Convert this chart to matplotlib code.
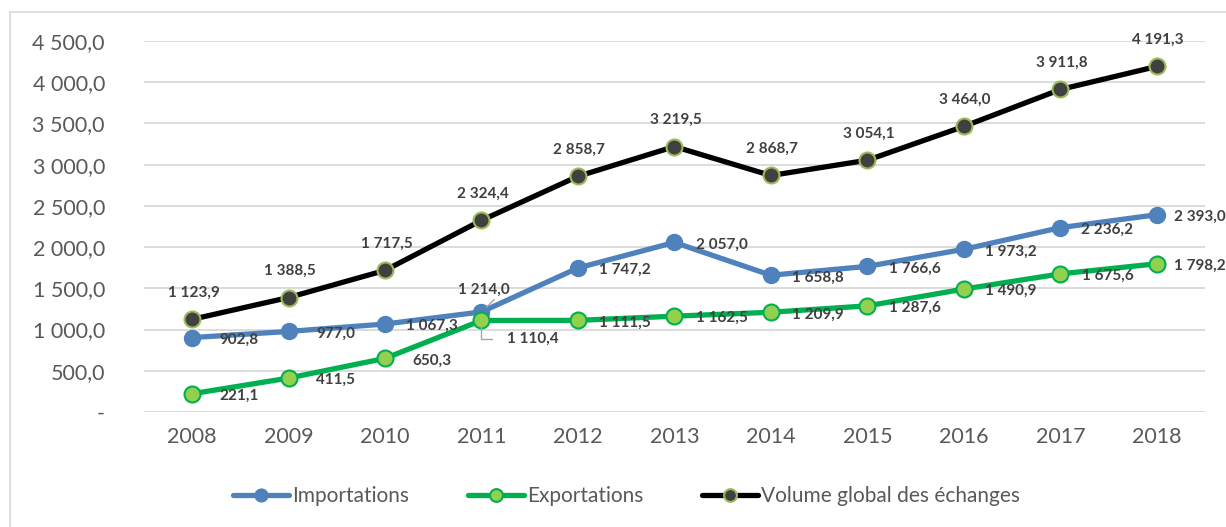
import matplotlib
matplotlib.use("Agg")
import matplotlib.pyplot as plt
from matplotlib.patches import Rectangle

plt.rcParams['font.family'] = ['Lato', 'DejaVu Sans']

years = [2008, 2009, 2010, 2011, 2012, 2013, 2014, 2015, 2016, 2017, 2018]
importations = [902.8, 977.0, 1067.3, 1214.0, 1747.2, 2057.0, 1658.8, 1766.6, 1973.2, 2236.2, 2393.0]
exportations = [221.1, 411.5, 650.3, 1110.4, 1111.5, 1162.5, 1209.9, 1287.6, 1490.9, 1675.6, 1798.2]
volume = [1123.9, 1388.5, 1717.5, 2324.4, 2858.7, 3219.5, 2868.7, 3054.1, 3464.0, 3911.8, 4191.3]
yticks = [0, 500, 1000, 1500, 2000, 2500, 3000, 3500, 4000, 4500]


def fr(v):
    return f"{v:,.1f}".replace(",", " ").replace(".", ",")


fig = plt.figure(figsize=(12.26, 5.27), dpi=100)
ax = fig.add_axes([0.1173, 0.2182, 0.8656, 0.704])

x = list(range(len(years)))

ax.plot(x, importations, color='#4F81BD', lw=3.8, marker='o', ms=11.5,
        mfc='#4F81BD', mec='#4F81BD', label='Importations', zorder=3, solid_capstyle='round')
ax.plot(x, exportations, color='#00B050', lw=3.8, marker='o', ms=11.5,
        mfc='#92D050', mec='#00B050', mew=1.5, label='Exportations', zorder=4, solid_capstyle='round')
ax.plot(x, volume, color='black', lw=3.8, marker='o', ms=11.5,
        mfc='#404040', mec='#9BBB59', mew=1.5, label='Volume global des échanges', zorder=5, solid_capstyle='round')

lab = dict(fontsize=11, fontweight='bold', color='#404040', ha='center', va='center',
           textcoords='offset points', zorder=6)

for i in x:
    ax.annotate(fr(volume[i]), (i, volume[i]), xytext=(1, 19), **lab)
    # last labels pulled in a bit so they stay inside the figure
    dx = 31 if i == len(x) - 1 else 34
    if years[i] == 2011:
        ax.annotate(fr(importations[i]), (i, importations[i]), xytext=(2, 16),
                    arrowprops=dict(arrowstyle='-', color='#A6A6A6', lw=1,
                                    relpos=(0.78, 0.1), shrinkA=0, shrinkB=5), **lab)
        ax.annotate(fr(exportations[i]), (i, exportations[i]), xytext=(37, -13),
                    arrowprops=dict(arrowstyle='-', color='#A6A6A6', lw=1,
                                    connectionstyle='angle,angleA=0,angleB=90,rad=0',
                                    relpos=(0, 0.5), shrinkA=9, shrinkB=5), **lab)
    else:
        ax.annotate(fr(importations[i]), (i, importations[i]), xytext=(dx, -1.5), **lab)
        ax.annotate(fr(exportations[i]), (i, exportations[i]), xytext=(dx, -1.5), **lab)

ax.set_xlim(-0.5, len(years) - 0.5)
ax.set_ylim(0, 4500)
ax.set_xticks(x)
ax.set_xticklabels([str(y) for y in years])
ax.set_yticks(yticks)
ax.set_yticklabels(['-' if v == 0 else fr(v) for v in yticks])
ax.tick_params(axis='both', length=0, labelsize=15.5, labelcolor='#595959')
ax.tick_params(axis='y', pad=28)
ax.tick_params(axis='x', pad=11)
ax.grid(axis='y', color='#D9D9D9', lw=1.3)
ax.set_axisbelow(True)
for s in ax.spines.values():
    s.set_visible(False)

leg = fig.legend(loc='center', bbox_to_anchor=(0.511, 0.059), ncol=3, frameon=False,
                 fontsize=15, handlelength=2.7, handletextpad=0.15, columnspacing=2.8,
                 markerscale=0.8, labelcolor='#595959')

fig.patches.append(Rectangle((10 / 1226, -0.01), 1.0, 1 - 12 / 527 + 0.01,
                             transform=fig.transFigure, fill=False,
                             edgecolor='#D9D9D9', lw=1.2))

fig.savefig('out.png', dpi=100)
